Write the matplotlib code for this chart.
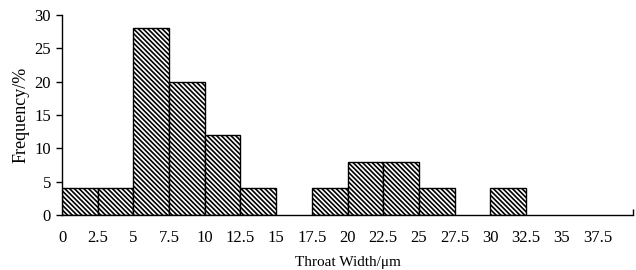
import matplotlib
matplotlib.use('Agg')
import matplotlib.pyplot as plt
import numpy as np

# bin left edges (um) and frequency (%)
bin_edges = [0, 2.5, 5, 7.5, 10, 12.5, 15, 17.5, 20, 22.5, 25, 27.5, 30, 32.5, 35, 37.5]
freq = [4, 4, 28, 20, 12, 4, 0, 4, 8, 8, 4, 0, 4, 0, 0, 0]
tick_labels = ['0', '2.5', '5', '7.5', '10', '12.5', '15', '17.5', '20', '22.5',
               '25', '27.5', '30', '32.5', '35', '37.5']
bin_width = 2.5

plt.rcParams['font.family'] = ['Liberation Serif', 'DejaVu Serif']
plt.rcParams['hatch.linewidth'] = 1.2
plt.rcParams['hatch.color'] = '#333333'

fig = plt.figure(figsize=(6.36, 2.70), dpi=100)
ax = fig.add_axes([62/636, 1-215/270, (633-62)/636, 200/270])

x = np.array(bin_edges)
h = np.array(freq)
mask = h > 0
ax.bar(x[mask], h[mask], width=bin_width, align='edge', color='white',
       edgecolor='black', linewidth=1.0, hatch='\\' * 7)

ax.set_xlim(0, 40)
ax.set_ylim(0, 30)
ax.set_yticks([0, 5, 10, 15, 20, 25, 30])
ax.set_xticks(bin_edges)
ax.set_xticklabels(tick_labels)
ax.tick_params(axis='x', length=0, pad=11, labelsize=12)
ax.tick_params(axis='y', direction='out', length=4, width=1, labelsize=12, pad=4)
# ticks every 5 um on the x axis, pointing up
ax.set_xticks(np.arange(0, 41, 5), minor=True)
ax.tick_params(axis='x', which='minor', direction='in', length=4, width=1)

for s in ['top', 'right']:
    ax.spines[s].set_visible(False)
for s in ['left', 'bottom']:
    ax.spines[s].set_linewidth(1.0)

ax.set_ylabel('Frequency/%', fontsize=13, labelpad=3)
ax.set_xlabel('Throat Width/\u03bcm', fontsize=11, labelpad=7)

fig.savefig('out.png', dpi=100)
